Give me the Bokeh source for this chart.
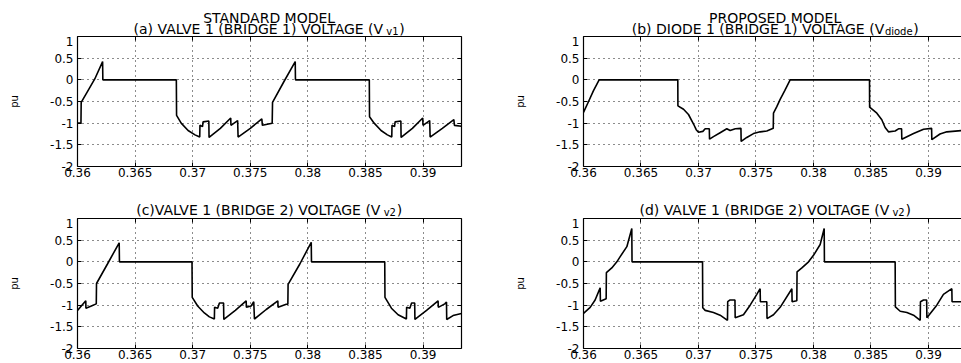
from bokeh.plotting import figure
from bokeh.layouts import column, row
from bokeh.models import FixedTicker, LinearAxis, CustomJSTickFormatter, Range1d
from bokeh.core.properties import value
from bokeh.embed import file_html
from bokeh.resources import INLINE

FONT = "DejaVu Sans"

# ---------------- data ----------------
x_ticks = [0.36, 0.365, 0.37, 0.375, 0.38, 0.385, 0.39]
x_tick_labels = ["0.36", "0.365", "0.37", "0.375", "0.38", "0.385", "0.39"]
y_ticks = [-2, -1.5, -1, -0.5, 0, 0.5, 1]
y_tick_labels = ["-2", "-1.5", "-1", "-0.5", "0", "0.5", "1"]

suptitle_left = "STANDARD MODEL"
suptitle_right = "PROPOSED MODEL"
title_a = ["(a) VALVE 1 (BRIDGE 1) VOLTAGE (V", "v1", ")"]
title_b = ["(b) DIODE 1 (BRIDGE 1) VOLTAGE (V", "diode", ")"]
title_c = ["(c)VALVE 1 (BRIDGE 2) VOLTAGE (V", "v2", ")"]
title_d = ["(d) VALVE 1 (BRIDGE 2) VOLTAGE (V", "v2", ")"]
y_label = "pu"

# (a) standard model, valve 1 bridge 1
t_a = [0.36000, 0.36030, 0.36032, 0.36080, 0.36150, 0.36218, 0.36220, 0.36858,
       0.36860, 0.36900, 0.36960, 0.37020, 0.37061, 0.37063, 0.37085, 0.37090,
       0.37140, 0.37142, 0.37240, 0.37330, 0.37332, 0.37390, 0.37394, 0.37500,
       0.37600, 0.37605, 0.37690, 0.37693, 0.37790, 0.37890, 0.37892, 0.38533,
       0.38535, 0.38575, 0.38635, 0.38690, 0.38728, 0.38730, 0.38752, 0.38757,
       0.38807, 0.38809, 0.38907, 0.38997, 0.38999, 0.39057, 0.39061, 0.39167,
       0.39267, 0.39272, 0.39333]
v_a = [-1.00, -1.00, -0.52, -0.30, 0.02, 0.42, 0.00, 0.00,
       -0.82, -1.00, -1.17, -1.27, -1.32, -1.05, -1.08, -0.97,
       -0.95, -1.33, -1.12, -0.88, -1.05, -0.94, -1.32, -1.12,
       -0.90, -1.05, -1.00, -0.52, -0.05, 0.42, 0.00, 0.00,
       -0.85, -1.00, -1.17, -1.27, -1.32, -1.05, -1.08, -0.97,
       -0.95, -1.33, -1.12, -0.88, -1.05, -0.94, -1.32, -1.12,
       -0.92, -1.05, -1.07]

# (b) proposed model, diode 1 bridge 1
t_b = [0.36000, 0.36044, 0.36087, 0.36136, 0.36820, 0.36821, 0.36870, 0.36913,
       0.36957, 0.36980, 0.37000, 0.37038, 0.37058, 0.37094, 0.37096, 0.37130,
       0.37188, 0.37246, 0.37275, 0.37320, 0.37369, 0.37371, 0.37420, 0.37478,
       0.37536, 0.37594, 0.37650, 0.37652, 0.37681, 0.37710, 0.37750, 0.37797,
       0.38487, 0.38488, 0.38551, 0.38594, 0.38623, 0.38652, 0.38710, 0.38739,
       0.38766, 0.38768, 0.38870, 0.38957, 0.39027, 0.39029, 0.39100, 0.39159,
       0.39287]
v_b = [-0.75, -0.50, -0.25, 0.00, 0.00, -0.60, -0.68, -0.80,
       -1.02, -1.15, -1.21, -1.19, -1.13, -1.13, -1.37, -1.31,
       -1.22, -1.13, -1.17, -1.13, -1.12, -1.42, -1.33, -1.24,
       -1.20, -1.18, -1.12, -0.77, -0.62, -0.45, -0.25, 0.00,
       0.00, -0.63, -0.77, -0.92, -1.10, -1.20, -1.18, -1.13,
       -1.13, -1.37, -1.24, -1.14, -1.12, -1.38, -1.25, -1.20,
       -1.17]

# (c) standard model, valve 1 bridge 2
t_c = [0.36000, 0.36072, 0.36073, 0.36120, 0.36163, 0.36165, 0.36260, 0.36362,
       0.36364, 0.36994, 0.36996, 0.37043, 0.37101, 0.37145, 0.37188, 0.37190,
       0.37217, 0.37232, 0.37268, 0.37270, 0.37370, 0.37464, 0.37466, 0.37507,
       0.37530, 0.37536, 0.37638, 0.37739, 0.37741, 0.37812, 0.37826, 0.37828,
       0.37930, 0.38029, 0.38031, 0.38667, 0.38669, 0.38725, 0.38783, 0.38855,
       0.38857, 0.38885, 0.38900, 0.38927, 0.38929, 0.39030, 0.39130, 0.39132,
       0.39188, 0.39203, 0.39205, 0.39260, 0.39333]
v_c = [-1.12, -0.90, -1.07, -1.02, -0.97, -0.50, -0.05, 0.44,
       0.00, 0.00, -0.82, -1.02, -1.18, -1.27, -1.32, -1.05,
       -1.07, -0.95, -0.95, -1.33, -1.12, -0.90, -1.05, -1.02,
       -0.92, -1.32, -1.10, -0.90, -1.05, -0.98, -0.98, -0.52,
       -0.05, 0.45, 0.00, 0.00, -0.82, -1.07, -1.22, -1.32,
       -1.05, -1.07, -0.95, -0.95, -1.33, -1.12, -0.90, -1.05,
       -0.97, -0.93, -1.33, -1.24, -1.19]

# (d) proposed model, valve 1 bridge 2
t_d = [0.36000, 0.36058, 0.36101, 0.36145, 0.36147, 0.36197, 0.36199, 0.36246,
       0.36290, 0.36319, 0.36377, 0.36420, 0.36422, 0.37035, 0.37037, 0.37058,
       0.37130, 0.37188, 0.37252, 0.37254, 0.37275, 0.37317, 0.37319, 0.37391,
       0.37449, 0.37507, 0.37536, 0.37538, 0.37594, 0.37596, 0.37652, 0.37710,
       0.37812, 0.37814, 0.37855, 0.37857, 0.37899, 0.37957, 0.38000, 0.38058,
       0.38093, 0.38095, 0.38710, 0.38712, 0.38754, 0.38812, 0.38870, 0.38928,
       0.38930, 0.38957, 0.38984, 0.38986, 0.39072, 0.39130, 0.39203, 0.39205,
       0.39287]
v_d = [-1.19, -1.05, -0.88, -0.60, -0.91, -0.85, -0.25, -0.14,
       0.00, 0.12, 0.35, 0.77, 0.00, 0.00, -1.06, -1.12,
       -1.17, -1.23, -1.35, -0.92, -0.88, -0.88, -1.29, -1.22,
       -1.00, -0.75, -0.62, -0.92, -0.92, -1.31, -1.22, -1.05,
       -0.62, -0.92, -0.90, -0.23, -0.14, 0.00, 0.15, 0.40,
       0.77, 0.00, 0.00, -1.04, -1.14, -1.17, -1.23, -1.35,
       -0.92, -0.88, -0.88, -1.29, -1.00, -0.75, -0.62, -0.92,
       -0.92]

# ---------------- helpers ----------------
ADV = {" ": 651, "(": 799, ")": 799, "a": 1255, "b": 1300, "c": 1126, "d": 1300,
       "e": 1260, "i": 569, "o": 1253, "v": 1212, "1": 1303, "2": 1303,
       "A": 1401, "B": 1405, "D": 1577, "E": 1294, "G": 1587, "I": 604, "L": 1141,
       "M": 1767, "N": 1532, "O": 1612, "P": 1235, "R": 1423, "S": 1300, "T": 1251,
       "V": 1401}


def tw(s, size):
    return 0.985 * sum(ADV.get(ch, 1300) for ch in s) / 2048.0 * size


TITLE_SIZE = 14
SUB_SIZE = 10
TICK_SIZE = "12px"
STRIP_H = 36
FULL_FRAME_W = 383.3


def label_formatter(vals, labs):
    return CustomJSTickFormatter(args=dict(vals=vals, labs=labs), code="""
        for (let i = 0; i < vals.length; i++) {
            if (Math.abs(vals[i] - tick) < 1e-9) { return labs[i]; }
        }
        return '';
    """)


def empty_formatter():
    return CustomJSTickFormatter(code="return '';")


def put_text(s, x, y, txt, size, align="left"):
    s.text(x=[x], y=[y], text=[txt], text_font=value(FONT),
           text_font_size=value(f"{size}px"), text_color="black",
           text_align=value(align), text_baseline=value("alphabetic"))


def make_strip(width, b_left, b_right, title_parts, base, suptitle=None):
    # frame of the strip lines up with the frame of the panel below it;
    # x is measured in pixels from the frame's left edge
    frame_w = width - b_left - b_right
    s = figure(width=width, height=STRIP_H, x_range=Range1d(0, frame_w),
               y_range=Range1d(0, STRIP_H), output_backend="svg",
               toolbar_location=None, title_location=None,
               x_axis_type=None, y_axis_type=None,
               min_border_left=b_left, min_border_right=b_right, min_border_top=0,
               min_border_bottom=0, background_fill_color="white",
               border_fill_color="white")
    s.outline_line_color = None
    s.xgrid.visible = False
    s.ygrid.visible = False
    cx = FULL_FRAME_W / 2.0
    main, sub, close = title_parts
    w_main = tw(main, TITLE_SIZE)
    w_sub = tw(sub, SUB_SIZE)
    w_close = tw(close, TITLE_SIZE)
    left = cx - (w_main + w_sub + w_close + 2.0) / 2.0
    put_text(s, left, base, main, TITLE_SIZE)
    put_text(s, left + w_main + 1.0, base - 3, sub, SUB_SIZE)
    put_text(s, left + w_main + w_sub + 2.0, base, close, TITLE_SIZE)
    if suptitle:
        put_text(s, cx, base + 11, suptitle, TITLE_SIZE, "center")
    return s


def make_panel(t, v, width, height, b_left, b_right, b_bottom, x_end, right_border):
    p = figure(width=width, height=height,
               x_range=Range1d(0.36, x_end), y_range=Range1d(-2, 1),
               output_backend="svg", toolbar_location=None, title_location=None,
               min_border_left=b_left, min_border_right=b_right,
               min_border_top=0, min_border_bottom=b_bottom,
               background_fill_color="white", border_fill_color="white")
    p.outline_line_color = None

    xt = FixedTicker(ticks=x_ticks)
    yt = FixedTicker(ticks=y_ticks)

    xa = p.xaxis[0]
    xa.ticker = xt
    xa.formatter = label_formatter(x_ticks, x_tick_labels)
    xa.major_label_standoff = 1
    ya = p.yaxis[0]
    ya.ticker = yt
    ya.formatter = label_formatter(y_ticks, y_tick_labels)
    ya.major_label_standoff = 4
    ya.axis_label = y_label
    ya.axis_label_text_font = FONT
    ya.axis_label_text_font_size = "10px"
    ya.axis_label_text_font_style = "normal"
    ya.axis_label_text_color = "black"
    ya.axis_label_standoff = 27

    top = LinearAxis(ticker=xt, formatter=empty_formatter(),
                     major_label_standoff=0, major_label_text_font_size="1px")
    p.add_layout(top, "above")
    axes = [xa, ya, top]
    if right_border:
        right = LinearAxis(ticker=yt, formatter=empty_formatter(),
                           major_label_standoff=0, major_label_text_font_size="1px")
        p.add_layout(right, "right")
        axes.append(right)

    for ax in axes:
        ax.axis_line_color = "black"
        ax.axis_line_width = 1.2
        ax.major_tick_in = 4
        ax.major_tick_out = 0
        ax.major_tick_line_color = "black"
        ax.minor_tick_line_color = None
        ax.major_label_text_color = "black"
    for ax in (xa, ya):
        ax.major_label_text_font = FONT
        ax.major_label_text_font_size = TICK_SIZE

    p.xgrid.ticker = xt
    p.ygrid.ticker = yt
    for g in (p.xgrid, p.ygrid):
        g.grid_line_color = "black"
        g.grid_line_dash = "1 4"
        g.grid_line_width = 1
        g.grid_line_alpha = 0.9

    p.line(t, v, line_color="black", line_width=1.6)
    return p


sa = make_strip(480, 77, 19, title_a, 8, suptitle_left)
sb = make_strip(481, 103, 0, title_b, 8, suptitle_right)
sc = make_strip(480, 77, 19, title_c, 9)
sd = make_strip(481, 103, 0, title_d, 9)

pa = make_panel(t_a, v_a, 480, 182 - STRIP_H, 77, 19, 16, 0.393333, True)
pb = make_panel(t_b, v_b, 481, 182 - STRIP_H, 103, 0, 16, 0.392870, False)
pc = make_panel(t_c, v_c, 480, 181 - STRIP_H, 77, 19, 15, 0.393333, True)
pd = make_panel(t_d, v_d, 481, 181 - STRIP_H, 103, 0, 15, 0.392870, False)

layout = column(row(column(sa, pa), column(sb, pb)),
                row(column(sc, pc), column(sd, pd)))
open("out.html", "w").write(file_html(layout, INLINE))
